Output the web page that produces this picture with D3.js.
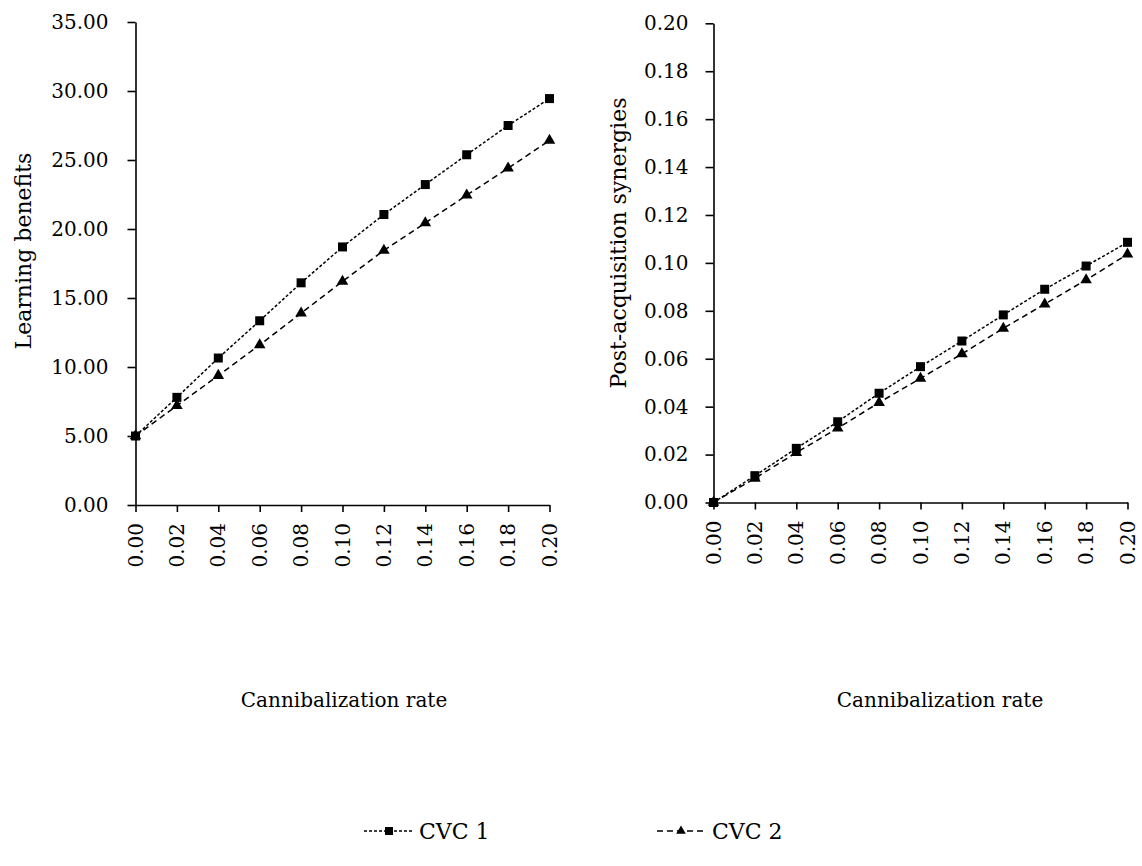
<!DOCTYPE html>
<html><head><meta charset="utf-8">
<script src="https://cdn.jsdelivr.net/npm/d3@7"></script>
<style>body{margin:0;background:#fff}svg{display:block}text{font-family:"DejaVu Serif","Liberation Serif",serif;fill:#000}</style>
</head><body>
<svg id="c" width="1142" height="866"></svg>
<script>
const rates = [0.00,0.02,0.04,0.06,0.08,0.10,0.12,0.14,0.16,0.18,0.20];
const learningCVC1 = [5.0,7.8,10.65,13.35,16.1,18.7,21.05,23.22,25.38,27.5,29.45];
const learningCVC2 = [5.0,7.2,9.38,11.6,13.9,16.2,18.45,20.44,22.45,24.4,26.42];
const synergyCVC1 = [0.0,0.0112,0.0226,0.0337,0.0456,0.0567,0.0674,0.0783,0.0890,0.0987,0.1086];
const synergyCVC2 = [0.0,0.0101,0.0208,0.0310,0.0417,0.0518,0.0620,0.0727,0.0828,0.0929,0.1036];
const learningTicks = [0,5,10,15,20,25,30,35];
const synergyTicks = [0,0.02,0.04,0.06,0.08,0.10,0.12,0.14,0.16,0.18,0.20];
const seriesNames = ["CVC 1","CVC 2"];

const FONT = '"DejaVu Serif","Liberation Serif",serif';
const FS = "20px";
const svg = d3.select("#c");
const fmt = d3.format(".2f");

function panel(opt){
  const x = d3.scaleLinear().domain([0,0.20]).range([opt.x0,opt.x1]);
  const y = d3.scaleLinear().domain(opt.ydom).range([opt.yb,opt.yt]);
  const g = svg.append("g");
  const ya = g.append("g").attr("transform",`translate(${opt.x0},0)`)
    .call(d3.axisLeft(y).tickValues(opt.yticks).tickFormat(fmt).tickSize(8).tickSizeOuter(0).tickPadding(opt.ypad));
  const xa = g.append("g").attr("transform",`translate(0,${opt.yb})`)
    .call(d3.axisBottom(x).tickValues(rates).tickFormat(fmt).tickSize(7).tickSizeOuter(0));
  [ya,xa].forEach(a=>{a.attr("font-family",null).attr("font-size",null);
    a.selectAll("path,line").attr("stroke","#000").attr("stroke-width",1.6);
    a.selectAll("text").style("font-family",FONT).style("font-size",FS).attr("fill","#000");});
  xa.selectAll("text").attr("transform","rotate(-90)").attr("text-anchor","end")
    .attr("x",-18).attr("y",0).attr("dy","0.33em");
  const line = d3.line().x((d,i)=>x(rates[i])).y(d=>y(d));
  g.append("path").datum(opt.s2).attr("d",line).attr("fill","none").attr("stroke","#000").attr("stroke-width",1.5).attr("stroke-dasharray","6,4");
  g.append("path").datum(opt.s1).attr("d",line).attr("fill","none").attr("stroke","#000").attr("stroke-width",1.5).attr("stroke-dasharray","3,2");
  g.selectAll(".tri").data(opt.s2).enter().append("path")
    .attr("d",d3.symbol(d3.symbolTriangle,58)()).attr("transform",(d,i)=>`translate(${x(rates[i])},${y(d)})`).attr("fill","#000");
  g.selectAll(".sq").data(opt.s1).enter().append("rect")
    .attr("x",(d,i)=>x(rates[i])-4.5).attr("y",d=>y(d)-4.5).attr("width",9).attr("height",9).attr("fill","#000");
  g.append("text").attr("transform",`translate(${opt.tx},${opt.ty}) rotate(-90)`).attr("text-anchor","middle")
    .style("font-family",FONT).style("font-size","22px").text(opt.title);
  g.append("text").attr("x",opt.xtx).attr("y",707).attr("text-anchor","middle")
    .style("font-family",FONT).style("font-size",FS).text("Cannibalization rate");
}
panel({x0:135.5,x1:549.5,yb:505,yt:22,ydom:[0,35],yticks:learningTicks,ypad:19,s1:learningCVC1,s2:learningCVC2,
  title:"Learning benefits",tx:31,ty:251,xtx:344});
panel({x0:713.5,x1:1127.5,yb:502.5,yt:23.3,ydom:[0,0.20],yticks:synergyTicks,ypad:17,s1:synergyCVC1,s2:synergyCVC2,
  title:"Post-acquisition synergies",tx:626,ty:243,xtx:940});

// legend
const lg = svg.append("g");
lg.append("line").attr("x1",364).attr("x2",413).attr("y1",831).attr("y2",831).attr("stroke","#000").attr("stroke-width",1.3).attr("stroke-dasharray","3,2");
lg.append("rect").attr("x",385).attr("y",827).attr("width",8).attr("height",8).attr("fill","#000");
lg.append("text").attr("x",419).attr("y",839).style("font-family",FONT).style("font-size","22px").text(seriesNames[0]);
lg.append("line").attr("x1",657).attr("x2",705).attr("y1",831).attr("y2",831).attr("stroke","#000").attr("stroke-width",1.3).attr("stroke-dasharray","6,4");
lg.append("path").attr("d",d3.symbol(d3.symbolTriangle,40)()).attr("transform","translate(681,831)").attr("fill","#000");
lg.append("text").attr("x",712).attr("y",839).style("font-family",FONT).style("font-size","22px").text(seriesNames[1]);
</script>
</body></html>
